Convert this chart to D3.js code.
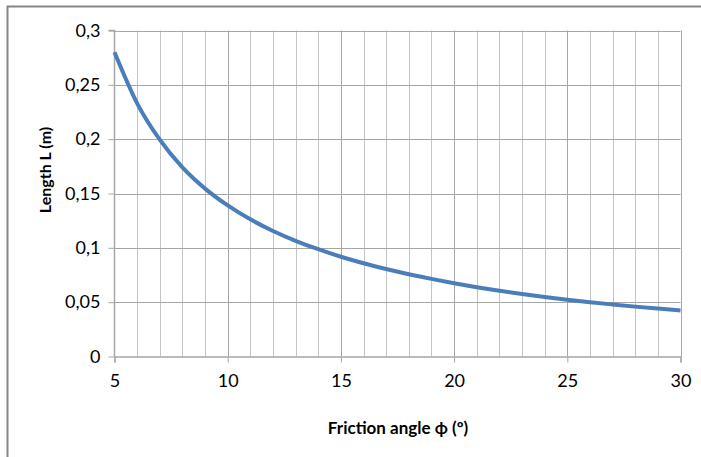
<!DOCTYPE html>
<html>
<head>
<meta charset="utf-8">
<script src="https://cdn.jsdelivr.net/npm/d3@7"></script>
<style>
  body { margin: 0; background: #fff; }
  text { font-family: Lato, "Open Sans", sans-serif; fill: #000; }
</style>
</head>
<body>
<div id="chart"></div>
<script>
// Data
const angles = [5, 6, 7, 8, 9, 10, 11, 12, 13, 14, 15, 16, 17, 18, 19, 20, 21, 22, 23, 24, 25, 26, 27, 28, 29, 30];
const lengths = [0.2800, 0.2330, 0.1995, 0.1740, 0.1545, 0.1390, 0.1262, 0.1155, 0.1065, 0.0988, 0.0918,
                 0.0858, 0.0805, 0.0757, 0.0714, 0.0674, 0.0638, 0.0605, 0.0575, 0.0548, 0.0523,
                 0.0500, 0.0479, 0.0459, 0.0441, 0.0424];
const xTicks = [5, 10, 15, 20, 25, 30];
const yTicks = [0, 0.05, 0.1, 0.15, 0.2, 0.25, 0.3];

const W = 701, H = 457;
const svg = d3.select("#chart").append("svg")
    .attr("width", W)
    .attr("height", H);

// Cadre du graphique
svg.append("path")
    .attr("d", `M7.5,${H} V6.5 H${W}`)
    .attr("fill", "none")
    .attr("stroke", "#868686")
    .attr("stroke-width", 2);

const x = d3.scaleLinear().domain([5, 30]).range([114.5, 680.5]);
const y = d3.scaleLinear().domain([0, 0.3]).range([356.5, 30.5]);

// Grille verticale (chaque degré)
svg.append("g")
    .selectAll("line")
    .data(d3.range(6, 31))
    .enter().append("line")
    .attr("x1", d => Math.round(x(d)) + 0.5)
    .attr("x2", d => Math.round(x(d)) + 0.5)
    .attr("y1", y(0.3))
    .attr("y2", y(0))
    .attr("stroke", d => d % 5 === 0 ? "#a6a6a6" : "#c4c4c4")
    .attr("stroke-width", 1);

// Grille horizontale
svg.append("g")
    .selectAll("line")
    .data(yTicks.slice(1))
    .enter().append("line")
    .attr("x1", x(5))
    .attr("x2", x(30))
    .attr("y1", d => Math.round(y(d)) + 0.5)
    .attr("y2", d => Math.round(y(d)) + 0.5)
    .attr("stroke", "#a6a6a6")
    .attr("stroke-width", 1);

// Axes
const yAxis = svg.append("g")
    .attr("transform", `translate(${x(5)},0)`)
    .call(d3.axisLeft(y).tickValues(yTicks).tickSize(6).tickPadding(8)
        .tickFormat(d => String(+d.toFixed(2)).replace(".", ",")));

const xAxis = svg.append("g")
    .attr("transform", `translate(0,${y(0)})`)
    .call(d3.axisBottom(x).tickValues(xTicks).tickSize(6).tickPadding(12).tickFormat(d => d));

[yAxis, xAxis].forEach(a => {
    a.select(".domain").attr("stroke", "#a6a6a6").attr("stroke-width", 1.5);
    a.selectAll(".tick line").attr("stroke", "#a6a6a6");
    a.selectAll(".tick text").style("font-size", "18px").attr("fill", "#000");
});
yAxis.select(".domain").attr("d", `M-6,${y(0.3)}H0V${y(0)}`);

// Courbe
const line = d3.line()
    .x((d, i) => x(angles[i]))
    .y(d => y(d))
    .curve(d3.curveMonotoneX);

svg.append("path")
    .datum(lengths)
    .attr("d", line)
    .attr("fill", "none")
    .attr("stroke", "#4a7ebb")
    .attr("stroke-width", 4)
    .attr("stroke-linecap", "butt");

// Titres des axes
svg.append("text")
    .attr("transform", "translate(51,170) rotate(-90)")
    .attr("text-anchor", "middle")
    .style("font-size", "16px")
    .style("font-weight", "bold")
    .text("Length L (m)");

svg.append("text")
    .attr("x", 398)
    .attr("y", 434)
    .attr("text-anchor", "middle")
    .style("font-size", "17px")
    .style("font-weight", "bold")
    .text("Friction angle ϕ (º)");
</script>
</body>
</html>
